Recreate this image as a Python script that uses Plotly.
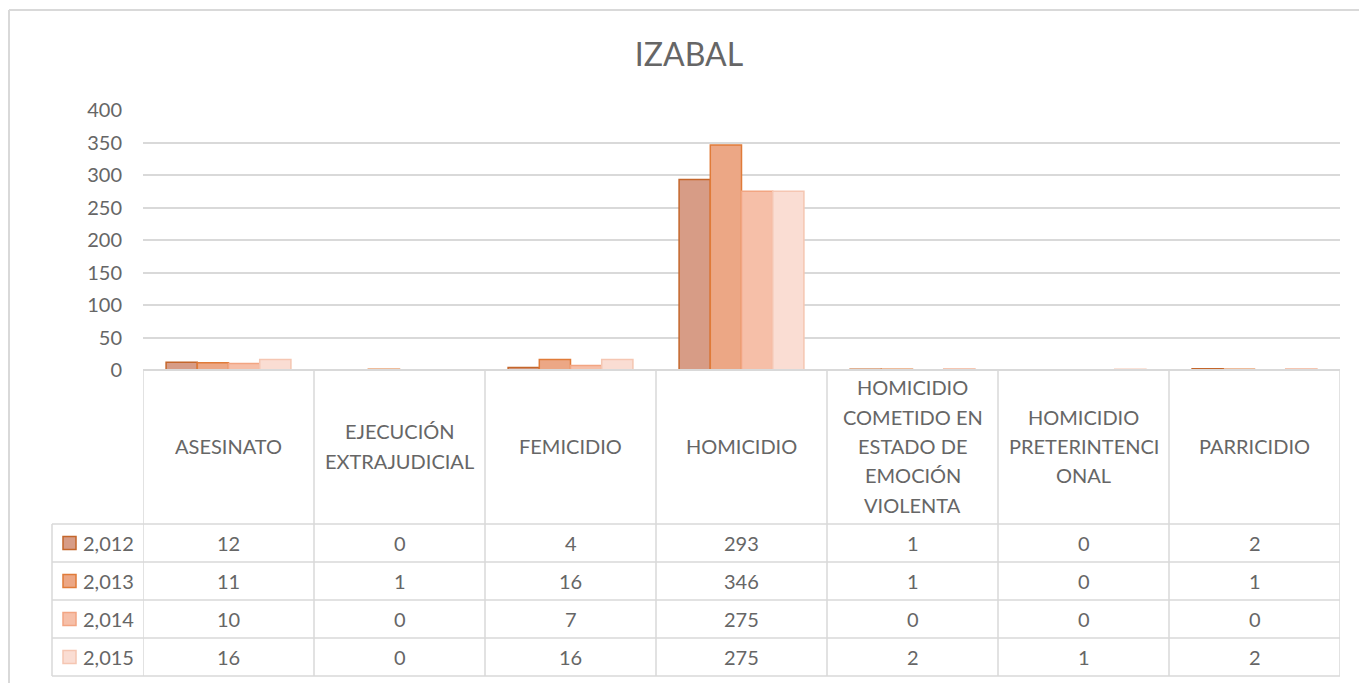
import plotly.graph_objects as go

W, H = 1359, 683

title = "IZABAL"
categories = [
    "ASESINATO",
    "EJECUCIÓN\nEXTRAJUDICIAL",
    "FEMICIDIO",
    "HOMICIDIO",
    "HOMICIDIO\nCOMETIDO EN\nESTADO DE\nEMOCIÓN\nVIOLENTA",
    "HOMICIDIO\nPRETERINTENCI\nONAL",
    "PARRICIDIO",
]
years = [2012, 2013, 2014, 2015]
v2012 = [12, 0, 4, 293, 1, 0, 2]
v2013 = [11, 1, 16, 346, 1, 0, 1]
v2014 = [10, 0, 7, 275, 0, 0, 0]
v2015 = [16, 0, 16, 275, 2, 1, 2]
series_values = [v2012, v2013, v2014, v2015]
y_ticks = [0, 50, 100, 150, 200, 250, 300, 350, 400]

fills = ["#D79C86", "#ECA785", "#F6BFA8", "#FADDD3"]
borders = ["#C4662B", "#E07B39", "#F2A582", "#F5C6B2"]

FONT = "Lato, 'Open Sans', sans-serif"
TXT = "#666666"
GRID = "#D9D9D9"
FS = 20


def X(px):
    return px / W


def Y(py):
    return 1 - py / H


cat_keys = [c.replace("\n", " ") for c in categories]

fig = go.Figure()
for yr, vals, fc, bc in zip(years, series_values, fills, borders):
    fig.add_trace(go.Bar(
        x=cat_keys, y=vals, name=f"{yr:,}",
        marker=dict(color=fc, line=dict(color=bc, width=1.5)),
        showlegend=False,
    ))

plot_left, plot_right = 143, 1340
y0_px, y400_px = 370, 110
header_bottom = 524
row_lines = [524, 562, 600, 638, 676]
leg_left = 52

shapes = []
line_style = dict(color=GRID, width=1.5)
# outer chart border (left + top)
shapes.append(dict(type="line", xref="paper", yref="paper", x0=X(9), x1=X(9), y0=Y(10), y1=0,
                   line=dict(color=GRID, width=2)))
shapes.append(dict(type="line", xref="paper", yref="paper", x0=X(9), x1=1, y0=Y(10), y1=Y(10),
                   line=dict(color=GRID, width=2)))
# table top (axis line)
shapes.append(dict(type="line", xref="paper", yref="paper", x0=X(plot_left), x1=X(plot_right),
                   y0=Y(y0_px), y1=Y(y0_px), line=dict(color=GRID, width=2)))
# horizontal row lines
for r in row_lines:
    shapes.append(dict(type="line", xref="paper", yref="paper", x0=X(leg_left), x1=X(plot_right),
                       y0=Y(r), y1=Y(r), line=line_style))
# vertical category boundaries
n = len(categories)
for i in range(n + 1):
    shapes.append(dict(type="line", xref="x", yref="paper", x0=i - 0.5, x1=i - 0.5,
                       y0=Y(y0_px), y1=Y(row_lines[-1]), line=line_style))
# legend column left edge
shapes.append(dict(type="line", xref="paper", yref="paper", x0=X(leg_left), x1=X(leg_left),
                   y0=Y(header_bottom), y1=Y(row_lines[-1]), line=line_style))

annotations = []
# header labels with Excel-like line spacing
hdr_center = (y0_px + header_bottom) / 2
spacing = 29.5
for i, c in enumerate(categories):
    lines = c.split("\n")
    m = len(lines)
    for k, ln in enumerate(lines):
        py = hdr_center + (k - (m - 1) / 2) * spacing
        annotations.append(dict(x=i, xref="x", y=Y(py - 1), yref="paper", text=ln, showarrow=False,
                                xanchor="center", yanchor="middle",
                                font=dict(family=FONT, size=FS, color=TXT)))
# data rows
for r, (yr, vals, fc, bc) in enumerate(zip(years, series_values, fills, borders)):
    cy = (row_lines[r] + row_lines[r + 1]) / 2
    for i, v in enumerate(vals):
        annotations.append(dict(x=i, xref="x", y=Y(cy), yref="paper", text=str(v), showarrow=False,
                                xanchor="center", yanchor="middle",
                                font=dict(family=FONT, size=FS, color=TXT)))
    # legend key
    shapes.append(dict(type="rect", xref="paper", yref="paper", x0=X(63), x1=X(76),
                       y0=Y(cy + 6.5), y1=Y(cy - 6.5), fillcolor=fc, line=dict(color=bc, width=1.5)))
    annotations.append(dict(x=X(81), xref="paper", y=Y(cy), yref="paper", text=f"{yr:,}",
                            showarrow=False, xanchor="left", yanchor="middle",
                            font=dict(family=FONT, size=FS, color=TXT)))

fig.update_layout(
    width=W, height=H, autosize=False,
    margin=dict(l=0, r=0, t=0, b=0, autoexpand=False),
    paper_bgcolor="white", plot_bgcolor="white",
    barmode="group", bargap=0.27, bargroupgap=0,
    title=dict(text=title, x=X(689), xanchor="center", xref="paper", y=Y(55), yanchor="middle",
               font=dict(family=FONT, size=32, color=TXT)),
    xaxis=dict(domain=[X(plot_left), X(plot_right)], range=[-0.5, n - 0.5], automargin=False,
               showticklabels=False, showgrid=False, zeroline=False, showline=False, ticks=""),
    yaxis=dict(domain=[Y(y0_px), Y(y400_px)], range=[0, 400], tickvals=y_ticks, automargin=False,
               showgrid=True, gridcolor=GRID, gridwidth=1.5, zeroline=False, showline=False,
               ticks="", ticklabelstandoff=20,
               tickfont=dict(family=FONT, size=FS, color=TXT)),
    shapes=shapes, annotations=annotations,
    hovermode=False,
)

fig.write_html("out.html", config={"displayModeBar": False},
               post_script="document.body.style.margin='0';document.body.style.overflow='hidden';")
